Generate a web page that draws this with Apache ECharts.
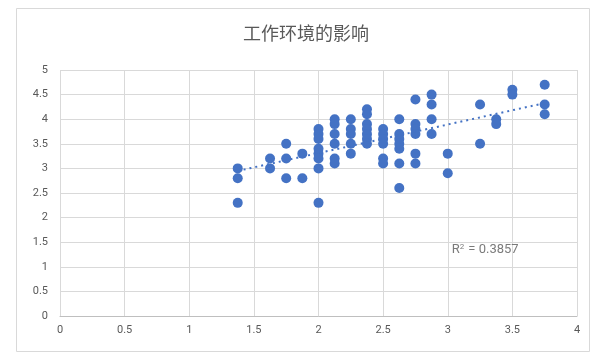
<!DOCTYPE html>
<html><head><meta charset="utf-8">
<script src="https://cdn.jsdelivr.net/npm/echarts@6/dist/echarts.min.js"></script>
<style>html,body{margin:0;padding:0;background:#fff}#c{width:612px;height:361px}</style>
</head><body><div id="c"></div>
<script>
var xValues = [1.375,1.375,1.375, 1.625,1.625, 1.75,1.75,1.75, 1.875,1.875,
  2,2,2,2,2,2,2,2, 2.125,2.125,2.125,2.125,2.125,2.125, 2.25,2.25,2.25,2.25,2.25,
  2.375,2.375,2.375,2.375,2.375,2.375,2.375, 2.5,2.5,2.5,2.5,2.5,2.5,
  2.625,2.625,2.625,2.625,2.625,2.625,2.625, 2.75,2.75,2.75,2.75,2.75,2.75,
  2.875,2.875,2.875,2.875, 3,3, 3.25,3.25, 3.375,3.375, 3.5,3.5, 3.75,3.75,3.75];
var yValues = [3.0,2.8,2.3, 3.2,3.0, 3.5,3.2,2.8, 3.3,2.8,
  3.8,3.7,3.6,3.4,3.3,3.2,3.0,2.3, 4.0,3.9,3.7,3.5,3.2,3.1, 4.0,3.8,3.7,3.5,3.3,
  4.2,4.1,3.9,3.8,3.7,3.6,3.5, 3.8,3.7,3.6,3.5,3.2,3.1,
  4.0,3.7,3.6,3.5,3.4,3.1,2.6, 4.4,3.9,3.8,3.7,3.3,3.1,
  4.5,4.3,4.0,3.7, 3.3,2.9, 4.3,3.5, 4.0,3.9, 4.6,4.5, 4.7,4.3,4.1];
var xTicks = [0,0.5,1,1.5,2,2.5,3,3.5,4];
var yTicks = [0,0.5,1,1.5,2,2.5,3,3.5,4,4.5,5];
var titleText = '工作环境的影响';
var r2Text = '0.3857';

var points = xValues.map(function(x,i){return [x,yValues[i]];});
// least squares trend line
var n = xValues.length, sx=0, sy=0, sxx=0, sxy=0;
for (var i=0;i<n;i++){sx+=xValues[i];sy+=yValues[i];sxx+=xValues[i]*xValues[i];sxy+=xValues[i]*yValues[i];}
var slope = (n*sxy - sx*sy)/(n*sxx - sx*sx);
var icpt = (sy - slope*sx)/n;
var xmin = Math.min.apply(null,xValues), xmax = Math.max.apply(null,xValues);
var trend = [[xmin, icpt+slope*xmin],[xmax, icpt+slope*xmax]];

var chart = echarts.init(document.getElementById('c'), null, {renderer:'canvas'});
var lab = {color:'#595959', fontSize:11, fontFamily:'Roboto, "Liberation Sans", sans-serif'};
chart.setOption({
  animation:false,
  backgroundColor:'#fff',
  title:{text:titleText, left:'center', top:19, textStyle:{color:'#595959', fontSize:18, fontWeight:'normal', fontFamily:'"Noto Sans CJK SC", sans-serif'}},
  graphic:[{type:'rect', shape:{x:16.5,y:8.5,width:573,height:343}, style:{fill:null, stroke:'#d9d9d9', lineWidth:1}, silent:true}],
  grid:{left:60, right:35, top:70, bottom:45},
  xAxis:{type:'value', min:0, max:4, interval:0.5,
    axisLine:{show:true, lineStyle:{color:'#bfbfbf', width:1}}, axisTick:{show:false},
    splitLine:{show:true, lineStyle:{color:'#d9d9d9', width:1}},
    axisLabel:Object.assign({margin:9, formatter:function(v){return String(v);}}, lab)},
  yAxis:{type:'value', min:0, max:5, interval:0.5,
    axisLine:{show:false}, axisTick:{show:false},
    splitLine:{show:true, lineStyle:{color:'#d9d9d9', width:1}},
    axisLabel:Object.assign({margin:12, formatter:function(v){return String(v);}}, lab)},
  series:[
    {type:'scatter', data:points, symbolSize:10, itemStyle:{color:'#4472c4', opacity:1}, z:3},
    {type:'line', data:trend, symbol:'none', lineStyle:{color:'#4472c4', width:2, type:[2,4]}, z:4},
    {type:'scatter', data:[[3.03,1.34]], symbolSize:0, silent:true, z:5,
     label:{show:true, position:'right', distance:0,
       formatter:'{a|R}{s|2}{a| = '+r2Text+'}',
       rich:{a:{color:'#595959',fontSize:13,fontFamily:'Roboto, sans-serif'}, s:{color:'#595959',fontSize:8,fontFamily:'Roboto, sans-serif',verticalAlign:'top',padding:[0,1,6,0]}}}}
  ]
});
</script></body></html>
